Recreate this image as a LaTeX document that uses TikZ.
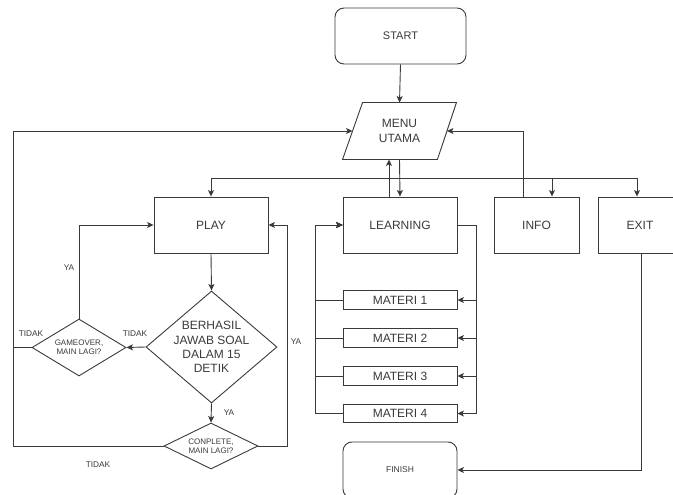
\documentclass[tikz,border=0pt]{standalone}
\usepackage{fontspec}
\setmainfont{Liberation Sans}
\usetikzlibrary{shapes.geometric,arrows.meta}
\definecolor{lc}{HTML}{3A3A3A}
\definecolor{tc}{HTML}{3A3A3A}
\begin{document}
\begin{tikzpicture}[x=1pt,y=-1pt,line width=0.9pt,color=lc,
  every node/.style={text=tc,font=\fontsize{12}{14.3}\selectfont},
  box/.style={draw=lc,minimum width=114,minimum height=56,inner sep=0pt},
  rbox/.style={box,rounded corners=9pt},
  dia/.style={diamond,draw=lc,inner sep=0pt},
  arr/.style={draw=lc,-{Stealth[length=6.5pt,width=6pt,inset=1.5pt]}},
  small/.style={font=\fontsize{8}{8.6}\selectfont},
  lbl/.style={font=\fontsize{8.3}{9}\selectfont}]
\clip (0,0) rectangle (673,495);
% nodes
\node[rbox,minimum width=131,font=\fontsize{11}{13}\selectfont] (start) at (400.5,36) {START};
\node[minimum width=113,minimum height=56,inner sep=0pt,align=center] (menu) at (399.5,131) {MENU\\UTAMA};
\draw (menu.south west) -- ([xshift=-19]menu.south east) -- (menu.north east)
      -- ([xshift=20]menu.north west) -- cycle;
\coordinate (menuW) at ([xshift=10]menu.west);
\coordinate (menuE) at ([xshift=-9.5]menu.east);
\node[box] (play) at (211,225) {PLAY};
\node[box] (learning) at (400,225) {LEARNING};
\node[box,minimum width=85] (info) at (536.5,225) {INFO};
\node[box,minimum width=84] (exit) at (640,225) {EXIT};
\node[box,minimum height=18.5] (m1) at (400,300) {MATERI 1};
\node[box,minimum height=18.5] (m2) at (400,338) {MATERI 2};
\node[box,minimum height=18.5] (m3) at (400,376) {MATERI 3};
\node[box,minimum height=18.5] (m4) at (400,413.5) {MATERI 4};
\node[rbox,minimum height=56,font=\fontsize{8.5}{9}\selectfont] (finish) at (400,470) {FINISH};
\node[dia,minimum width=131,minimum height=112,
      label={[align=center]center:BERHASIL\\JAWAB SOAL\\DALAM 15\\DETIK}] (berhasil) at (211.5,347) {};
\node[dia,minimum width=94,minimum height=57,
      label={[align=center,small]center:GAMEOVER,\\MAIN LAGI?}] (gameover) at (79,347.5) {};
\node[dia,minimum width=94,minimum height=46,
      label={[align=center,small]center:CONPLETE,\\MAIN LAGI?}] (conplete) at (211,446) {};
% edge labels
\node[lbl] (t1) at (31,334) {TIDAK};
\node[lbl] (t2) at (135,334) {TIDAK};
\node[lbl] (t3) at (98,465) {TIDAK};
\node[lbl] (y1) at (69,268) {YA};
\node[lbl] (y2) at (296,342) {YA};
\node[lbl] (y3) at (229,413) {YA};
% helper coordinates
\coordinate (split) at (400,178);
\coordinate (loop) at (13,446);
\coordinate (lr) at (476,225);
\coordinate (ll) at (315,225);
% connectors
\draw[arr] (start.south) -- (menu.north);
\draw[arr] (menu.south) -- (learning.north);
\draw[arr] (split) -| (play.north);
\draw[arr] (split) -| ([xshift=15.5]info.north);
\draw[arr] (split) -| ([xshift=-3]exit.north);
\draw[arr] ([xshift=-11]learning.north) -- ([xshift=-11]learning.north |- menu.south);
\draw[arr] ([xshift=-13.5]info.north) |- (menuE);
\draw[arr] (play.south) -- (berhasil.north);
\draw[arr] (berhasil.west) -- (gameover.east);
\draw[arr] (gameover.north) |- (play.west);
\draw[arr] (berhasil.south) -- (conplete.north);
\draw[arr] (conplete.east) -- ++(29,0) |- (play.east);
\draw[arr] (conplete.west) -- (loop) |- (menuW);
\draw (gameover.west) -- (gameover.west -| loop);
\foreach \m in {m1,m2,m3,m4}{
  \draw[arr] (learning.east) -| (lr |- \m.east) -- (\m.east);
  \draw[arr] (\m.west) -- (ll |- \m.west) -- (ll) -- (learning.west);
}
\draw[arr] ([xshift=1]exit.south) |- (finish.east);
\end{tikzpicture}
\end{document}
